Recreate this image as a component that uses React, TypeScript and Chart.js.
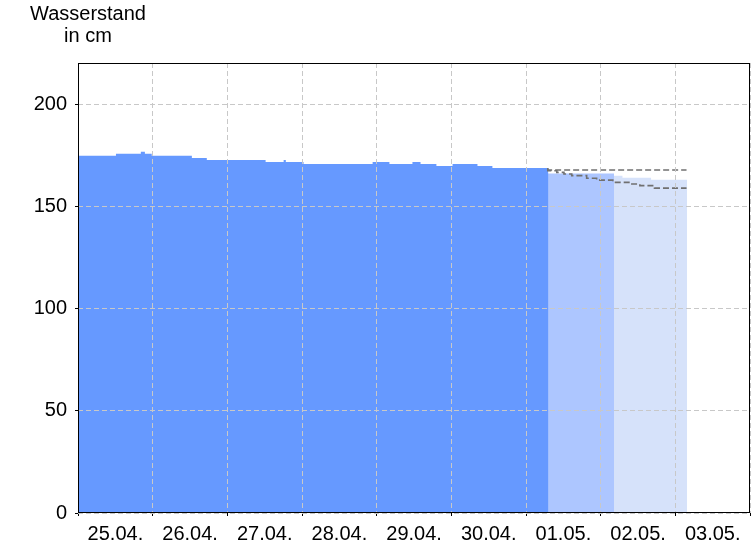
import React, { useEffect, useRef } from 'react';
import { Chart, registerables } from 'chart.js';

Chart.register(...registerables);

// Hours since 25.04. 00:00
const dayLabels = ['25.04.', '26.04.', '27.04.', '28.04.', '29.04.', '30.04.', '01.05.', '02.05.', '03.05.', ''];
const dayTickHours = [0, 24, 48, 72, 96, 120, 144, 168, 192, 216];
const yTicks = [0, 50, 100, 150, 200];

const measuredHours = [0, 12.2, 20.2, 21.5, 23.7, 36.6, 41.4, 60.3, 66.1, 66.8, 72.5, 94.7, 100.1, 107.5, 110.1, 115.2, 120.4, 128.4, 133.2, 139.6, 151.2];
const measuredLevels = [174, 175, 176, 177, 176, 175, 174, 173, 172, 173, 172, 171, 172, 171, 172, 171, 170, 171, 170, 169, 169];

// forecast bands start slightly under the previous band so no seam shows
const forecastNearHours = [150.8, 172.3];
const forecastNearLevels = [166.3, 166.3];

const forecastFarHours = [171.9, 175, 184.2, 194.2, 195.8];
const forecastFarLevels = [166, 165.3, 164.3, 163.3, 163.3];

const upperHours = [151, 154.7, 195.6];
const upperLevels = [168.9, 168.1, 168.1];

const lowerHours = [151, 153.9, 156.2, 158.7, 163.5, 166.7, 171.9, 177.4, 180.6, 185.3, 190.5, 195.6];
const lowerLevels = [168.9, 167.7, 166.9, 166.1, 165.3, 164, 163.1, 162, 161.2, 160.4, 159.2, 159.2];

const toPoints = (xs: number[], ys: number[]) => xs.map((x, i) => ({ x, y: ys[i] }));

const FONT = '"Liberation Sans", Arial, sans-serif';

const framePlugin = {
  id: 'frameAndTitle',
  afterDraw(chart: any) {
    const { ctx, chartArea } = chart;
    const { left, top, right, bottom } = chartArea;
    ctx.save();
    ctx.strokeStyle = '#000';
    ctx.lineWidth = 1;
    ctx.setLineDash([]);
    ctx.strokeRect(Math.round(left) + 0.5, Math.round(top) + 0.5, Math.round(right - left) - 1, Math.round(bottom - top) - 1);
    ctx.fillStyle = '#000';
    ctx.font = '20px ' + FONT;
    ctx.textAlign = 'center';
    ctx.textBaseline = 'alphabetic';
    ctx.fillText('Wasserstand', 88, 20);
    ctx.fillText('in cm', 88, 42);
    ctx.restore();
  },
};

export default function App() {
  const canvasRef = useRef<HTMLCanvasElement | null>(null);

  useEffect(() => {
    const canvas = canvasRef.current;
    if (!canvas) return;
    const fillBase = {
      type: 'line' as const,
      stepped: 'after' as const,
      fill: 'origin',
      borderWidth: 0,
      borderColor: 'rgba(0,0,0,0)',
      pointRadius: 0,
    };
    const chart = new Chart(canvas, {
      type: 'line',
      data: {
        datasets: [
          {
            label: 'upper',
            data: toPoints(upperHours, upperLevels),
            stepped: 'after',
            fill: false,
            borderColor: '#707070',
            borderWidth: 1.6,
            borderDash: [6, 3],
            pointRadius: 0,
          },
          {
            label: 'lower',
            data: toPoints(lowerHours, lowerLevels),
            stepped: 'after',
            fill: false,
            borderColor: '#707070',
            borderWidth: 1.6,
            borderDash: [6, 3],
            pointRadius: 0,
          },
          { ...fillBase, label: 'measured', data: toPoints(measuredHours, measuredLevels), backgroundColor: 'rgb(102,153,255)' },
          { ...fillBase, label: 'near', data: toPoints(forecastNearHours, forecastNearLevels), backgroundColor: 'rgb(173,198,255)' },
          { ...fillBase, label: 'far', data: toPoints(forecastFarHours, forecastFarLevels), backgroundColor: 'rgb(214,226,250)' },
        ] as any,
      },
      options: {
        responsive: false,
        animation: false,
        devicePixelRatio: 1,
        layout: { padding: { top: 63, right: 4, left: 0, bottom: 0 } },
        plugins: { legend: { display: false }, tooltip: { enabled: false }, title: { display: false } },
        scales: {
          x: {
            type: 'linear',
            min: 0,
            max: 216,
            afterBuildTicks: (s: any) => {
              s.ticks = dayTickHours.map((v) => ({ value: v }));
            },
            afterFit: (s: any) => {
              s.height = 33;
            },
            ticks: {
              autoSkip: false,
              maxRotation: 0,
              padding: 6,
              labelOffset: 37.4,
              color: '#000',
              font: { family: FONT, size: 20 },
              callback: (_v: any, i: number) => dayLabels[i] ?? '',
            },
            grid: {
              color: '#c8c8c8',
              z: 1,
              tickLength: 3,
              tickColor: '#000',
              tickBorderDash: [],
            },
            border: { display: false, dash: [5, 3] },
          },
          y: {
            type: 'linear',
            min: 0,
            max: 220.5,
            afterBuildTicks: (s: any) => {
              s.ticks = yTicks.map((v) => ({ value: v }));
            },
            afterFit: (s: any) => {
              s.width = 78;
            },
            ticks: {
              padding: 8,
              color: '#000',
              font: { family: FONT, size: 20 },
            },
            grid: {
              color: '#c8c8c8',
              z: 1,
              tickLength: 3,
              tickColor: '#000',
              tickBorderDash: [],
            },
            border: { display: false, dash: [5, 3] },
          },
        },
      } as any,
      plugins: [framePlugin],
    });
    return () => chart.destroy();
  }, []);

  return (
    <div style={{ position: 'fixed', left: 0, top: 0, width: 756, height: 546, background: '#fff' }}>
      <canvas ref={canvasRef} width={756} height={546} style={{ display: 'block' }} />
    </div>
  );
}
